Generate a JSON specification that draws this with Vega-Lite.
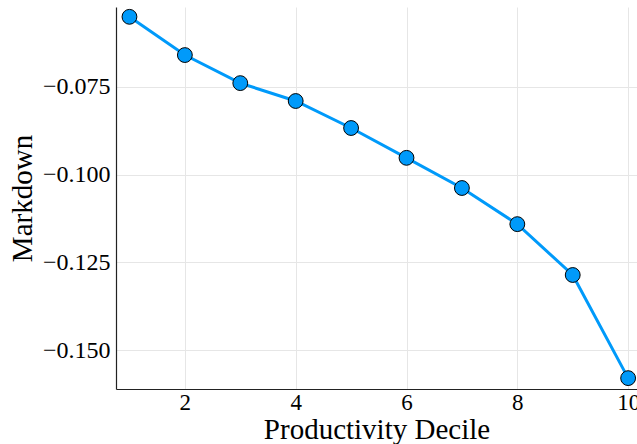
{
  "$schema": "https://vega.github.io/schema/vega-lite/v6.json",
  "width": 521,
  "height": 382,
  "autosize": {"type": "none"},
  "padding": {"left": 116, "top": 7, "right": 0, "bottom": 55},
  "background": "white",
  "config": {
    "view": {"stroke": null},
    "font": "Liberation Serif",
    "axis": {
      "gridColor": "#e6e6e6",
      "gridWidth": 1,
      "domainColor": "#222222",
      "domainWidth": 1.2,
      "ticks": false,
      "labelColor": "#000000",
      "titleColor": "#000000",
      "titleFontWeight": "normal"
    }
  },
  "data": {
    "values": [
      {"decile": 1, "markdown": -0.0550},
      {"decile": 2, "markdown": -0.0659},
      {"decile": 3, "markdown": -0.0739},
      {"decile": 4, "markdown": -0.0790},
      {"decile": 5, "markdown": -0.0867},
      {"decile": 6, "markdown": -0.0952},
      {"decile": 7, "markdown": -0.1038},
      {"decile": 8, "markdown": -0.1141},
      {"decile": 9, "markdown": -0.1286},
      {"decile": 10, "markdown": -0.1580}
    ]
  },
  "encoding": {
    "x": {
      "field": "decile",
      "type": "quantitative",
      "title": "Productivity Decile",
      "scale": {"domain": [0.757, 10.16], "nice": false, "zero": false},
      "axis": {
        "values": [2, 4, 6, 8, 10],
        "format": "d",
        "labelFont": "Liberation Serif",
        "labelFontSize": 23,
        "titleFont": "Liberation Serif",
        "titleFontSize": 29,
        "labelPadding": 2,
        "titlePadding": 1,
        "labelFlush": false,
        "labelOverlap": false,
        "labelBound": false
      }
    },
    "y": {
      "field": "markdown",
      "type": "quantitative",
      "title": "Markdown",
      "scale": {"domain": [-0.1611, -0.0522], "nice": false, "zero": false},
      "axis": {
        "values": [-0.15, -0.125, -0.1, -0.075],
        "format": ".3f",
        "labelFont": "Liberation Serif",
        "labelFontSize": 24,
        "titleFont": "Liberation Serif",
        "titleFontSize": 29,
        "labelPadding": 6,
        "titlePadding": 5
      }
    }
  },
  "layer": [
    {
      "mark": {"type": "line", "color": "#009AFA", "strokeWidth": 3}
    },
    {
      "mark": {"type": "point", "shape": "circle", "filled": true, "fill": "#009AFA", "stroke": "#000000", "strokeWidth": 1, "size": 220, "opacity": 1}
    }
  ]
}
